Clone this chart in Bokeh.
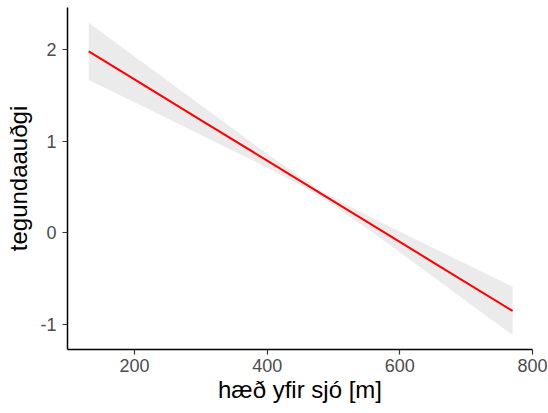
from bokeh.plotting import figure
from bokeh.models import Range1d, FixedTicker, ColumnDataSource
from bokeh.embed import file_html
from bokeh.resources import INLINE

# Data (linear fit with confidence band)
elevation = [131, 200, 300, 400, 480, 560, 660, 770]
fit = [1.98, 1.674, 1.231, 0.789, 0.434, 0.080, -0.363, -0.850]
lower = [1.668, 1.424, 1.069, 0.713, 0.404, 0.001, -0.529, -1.113]
upper = [2.292, 1.924, 1.393, 0.865, 0.464, 0.159, -0.197, -0.587]

x_ticks = [200, 400, 600, 800]
y_ticks = [-1, 0, 1, 2]
y_tick_labels = {-1: "-1", 0: "0", 1: "1", 2: "2"}

src = ColumnDataSource(dict(x=elevation, fit=fit, lo=lower, hi=upper))

p = figure(width=548, height=412, output_backend="svg", toolbar_location=None,
           x_range=Range1d(99, 800), y_range=Range1d(-1.27, 2.458),
           min_border_left=67, min_border_right=16, min_border_top=7,
           min_border_bottom=63)

p.varea(x="x", y1="lo", y2="hi", source=src, fill_color="#EBEBEB", fill_alpha=1.0)
p.line(x="x", y="fit", source=src, line_color="#FF0000", line_width=2)

p.outline_line_color = None
p.xgrid.grid_line_color = None
p.ygrid.grid_line_color = None
p.background_fill_color = "white"

p.xaxis.ticker = FixedTicker(ticks=x_ticks)
p.yaxis.ticker = FixedTicker(ticks=y_ticks)
p.yaxis.major_label_overrides = y_tick_labels
p.xaxis.axis_label = "hæð yfir sjó [m]"
p.yaxis.axis_label = "tegundaauðgi"

for ax in (p.xaxis[0], p.yaxis[0]):
    ax.axis_line_color = "black"
    ax.axis_line_width = 1.5
    ax.major_tick_line_color = "#333333"
    ax.major_tick_line_width = 1.2
    ax.major_tick_in = 0
    ax.major_tick_out = 5
    ax.minor_tick_line_color = None
    ax.major_label_text_font = "Liberation Sans"
    ax.major_label_text_font_size = "18px"
    ax.major_label_text_color = "#4D4D4D"
    ax.axis_label_text_font = "Liberation Sans"
    ax.axis_label_text_font_size = "24px"
    ax.axis_label_text_font_style = "normal"
    ax.axis_label_text_color = "black"

p.xaxis.major_label_standoff = 4
p.xaxis.axis_label_standoff = 1
p.yaxis.major_label_standoff = 6
p.yaxis.axis_label_standoff = 5

open("out.html", "w").write(file_html(p, INLINE))
